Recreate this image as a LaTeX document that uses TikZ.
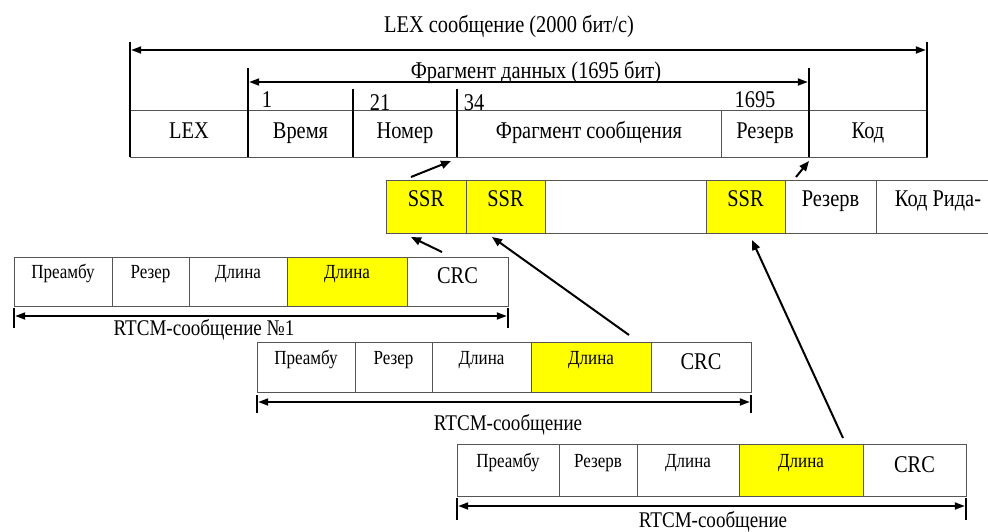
\documentclass[tikz,border=0pt]{standalone}
\usepackage{fontspec}
\setmainfont[FakeStretch=0.85]{Liberation Serif}
\usetikzlibrary{arrows.meta}
\definecolor{ssryellow}{RGB}{255,255,0}
\definecolor{cellline}{RGB}{85,85,85}
\newcommand\lexbig{\fontsize{24}{28}\selectfont}
\newcommand\lexsmall{\fontsize{20}{24}\selectfont}
\newcommand\lexlbl{\fontsize{22.4}{26}\selectfont}
\begin{document}
\begin{tikzpicture}[x=1pt,y=-1pt,
  cell/.style={draw=cellline, line width=0.9pt, inner sep=0pt, outer sep=0pt,
    anchor=north west, font=\lexbig},
  toprow/.style={cell, minimum height=47, text height=9pt, text depth=0pt},
  ssrrow/.style={cell, minimum height=53, text height=0pt, text depth=0pt},
  rsmall/.style={cell, font=\lexsmall, text height=0pt, text depth=6pt},
  rbig/.style={cell, text height=4pt, text depth=0pt},
  hl/.style={fill=ssryellow},
  bar/.style={line width=2.4pt, line cap=butt},
  dim/.style={line width=1.8pt, {Triangle[length=10pt,width=7pt]}-{Triangle[length=10pt,width=7pt]}, shorten <=1.2pt, shorten >=1.2pt},
  conn/.style={line width=2pt, -{Triangle[length=10pt,width=8pt]}},
  lbl/.style={inner sep=0pt, anchor=base, font=\lexbig},
  rlbl/.style={inner sep=0pt, anchor=base, font=\lexlbl}
]
\useasboundingbox (0,0) rectangle (988,531);

% ---------- top LEX table ----------
\node[toprow, minimum width=118] (lex) at (130,110) {LEX};
\node[toprow, minimum width=105] (time) at (248,110) {Время};
\node[toprow, minimum width=104] (num) at (353,110) {Номер};
\node[toprow, minimum width=264] (frag) at (457,110) {Фрагмент сообщения};
\node[toprow, minimum width=88] (res) at (721,110) {Резерв};
\node[toprow, minimum width=118] (code) at (809,110) {Код};

\node[lbl] (ttl) at (509,32) {LEX сообщение (2000 бит/с)};
\node[lbl] (fttl) at (536,78) {Фрагмент данных (1695 бит)};
\node[lbl] (n1) at (267,107) {1};
\node[lbl] (n21) at (380,110) {21};
\node[lbl] (n34) at (474,110) {34};
\node[lbl] (n1695) at (755,107) {1695};

\coordinate (lexTopL) at (130,42);
\coordinate (lexTopR) at (927,42);
\coordinate (fragTopL) at (248,68);
\coordinate (fragTopR) at (809,68);
\coordinate (numTop) at (353,89);
\coordinate (fragTop) at (457,89);
\draw[bar] (lexTopL) -- (lex.south west);
\draw[bar] (lexTopR) -- (code.south east);
\draw[bar] (fragTopL) -- (time.south west);
\draw[bar] (fragTopR) -- (code.south west);
\draw[bar] (numTop) -- (num.south west);
\draw[bar] (fragTop) -- (frag.south west);
\coordinate (lexArrL) at (130,50);
\coordinate (lexArrR) at (927,50);
\coordinate (fragArrL) at (248,82);
\coordinate (fragArrR) at (809,82);
\draw[dim] (lexArrL) -- (lexArrR);
\draw[dim] (fragArrL) -- (fragArrR);

% ---------- SSR row ----------
\node[ssrrow, hl, minimum width=80] (ssr1) at (386,180) {SSR};
\node[ssrrow, hl, minimum width=79] (ssr2) at (466,180) {SSR};
\node[ssrrow, minimum width=161] (blank) at (545,180) {};
\node[ssrrow, hl, minimum width=79] (ssr3) at (706,180) {SSR};
\node[ssrrow, minimum width=91] (sres) at (785,180) {Резерв};
\node[ssrrow, minimum width=124] (rs) at (876,180) {Код Рида-};

% ---------- RTCM message 1 ----------
\node[rsmall, minimum height=49, minimum width=98] (a1) at (14,257) {Преамбу};
\node[rsmall, minimum height=49, minimum width=77] (a2) at (112,257) {Резер};
\node[rsmall, minimum height=49, minimum width=98] (a3) at (189,257) {Длина};
\node[rsmall, hl, minimum height=49, minimum width=120] (a4) at (287,257) {Длина};
\node[rbig, minimum height=49, minimum width=101] (a5) at (407,257) {CRC};
\coordinate (a1bT) at (14,308);
\coordinate (a1bB) at (14,328);
\coordinate (a5bT) at (508,308);
\coordinate (a5bB) at (508,328);
\draw[bar] (a1bT) -- (a1bB);
\draw[bar] (a5bT) -- (a5bB);
\coordinate (a1d) at (14,316);
\coordinate (a5d) at (508,316);
\draw[dim] (a1d) -- (a5d);
\node[rlbl] (al) at (204,335) {RTCM-сообщение №1};

% ---------- RTCM message 2 ----------
\node[rsmall, minimum height=50, minimum width=98] (b1) at (257,342) {Преамбу};
\node[rsmall, minimum height=50, minimum width=77] (b2) at (355,342) {Резер};
\node[rsmall, minimum height=50, minimum width=99] (b3) at (432,342) {Длина};
\node[rsmall, hl, minimum height=50, minimum width=120] (b4) at (531,342) {Длина};
\node[rbig, minimum height=50, minimum width=100] (b5) at (651,342) {CRC};
\coordinate (b1bT) at (257,395);
\coordinate (b1bB) at (257,413);
\coordinate (b5bT) at (751,395);
\coordinate (b5bB) at (751,413);
\draw[bar] (b1bT) -- (b1bB);
\draw[bar] (b5bT) -- (b5bB);
\coordinate (b1d) at (257,402);
\coordinate (b5d) at (751,402);
\draw[dim] (b1d) -- (b5d);
\node[rlbl] (bl) at (508,430) {RTCM-сообщение};

% ---------- RTCM message 3 ----------
\node[rsmall, minimum height=52, minimum width=102] (c1) at (457,444) {Преамбу};
\node[rsmall, minimum height=52, minimum width=78] (c2) at (559,444) {Резерв};
\node[rsmall, minimum height=52, minimum width=102] (c3) at (637,444) {Длина};
\node[rsmall, hl, minimum height=52, minimum width=124] (c4) at (739,444) {Длина};
\node[rbig, minimum height=52, minimum width=103] (c5) at (863,444) {CRC};
\coordinate (c1bT) at (457,498);
\coordinate (c1bB) at (457,520);
\coordinate (c5bT) at (966,498);
\coordinate (c5bB) at (966,520);
\draw[bar] (c1bT) -- (c1bB);
\draw[bar] (c5bT) -- (c5bB);
\coordinate (c1d) at (457,506);
\coordinate (c5d) at (966,506);
\draw[dim] (c1d) -- (c5d);
\node[rlbl] (cl) at (713,527) {RTCM-сообщение};

% ---------- connectors ----------
\coordinate (p1s) at (411,177);
\coordinate (p1e) at (451,161);
\coordinate (p2s) at (796,177);
\coordinate (p2e) at (809,161);
\coordinate (p3s) at (442,252);
\coordinate (p3e) at (411,237);
\coordinate (p4s) at (629,335);
\coordinate (p4e) at (492,237);
\coordinate (p5s) at (843,438);
\coordinate (p5e) at (752,240);
\draw[conn] (p1s) -- (p1e);
\draw[conn] (p2s) -- (p2e);
\draw[conn] (p3s) -- (p3e);
\draw[conn] (p4s) -- (p4e);
\draw[conn] (p5s) -- (p5e);
\end{tikzpicture}
\end{document}
